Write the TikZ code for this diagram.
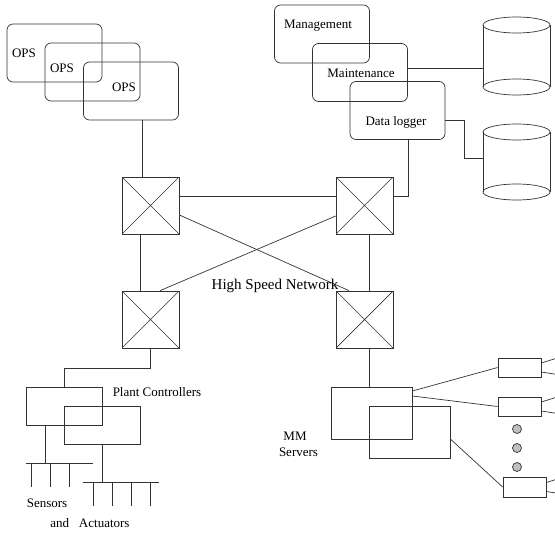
\documentclass[tikz,border=0pt]{standalone}
\usepackage{fontspec}
\setmainfont{Liberation Serif}

\begin{document}
\begin{tikzpicture}[x=1pt,y=-1pt,line width=0.7pt,draw=black!80,
    font=\fontsize{13}{15}\selectfont,
    switchbox/.style={draw,minimum size=57pt,inner sep=0pt,
      path picture={\draw (path picture bounding box.north west) -- (path picture bounding box.south east)
        (path picture bounding box.north east) -- (path picture bounding box.south west);}}]

      \useasboundingbox (0,0) rectangle (555,533);
      \clip (0,0) rectangle (555,533);

      % rounded stations
      \begin{scope}[every node/.style={draw,rounded corners=6pt,minimum width=95pt,minimum height=58pt,inner sep=0pt}]
        \node (ops1)   at (54.5,53)    {};
        \node (ops2)   at (92.5,72)    {};
        \node (ops3)   at (131,91)     {};
        \node (mgmt)   at (322,34)     {};
        \node (maint)  at (360,72.5)   {};
        \node (logger) at (397.5,110.5) {};
      \end{scope}

      % switches
      \begin{scope}[every node/.style={switchbox}]
        \node (sw1) at (150.5,205.5) {};
        \node (sw2) at (364.5,205.5) {};
        \node (sw3) at (150.5,319.5) {};
        \node (sw4) at (364.5,319.5) {};
      \end{scope}

      % controllers, servers, cameras
      \begin{scope}[every node/.style={draw,inner sep=0pt}]
        \node[minimum width=76pt,minimum height=38pt] (pc1) at (64,406)    {};
        \node[minimum width=76pt,minimum height=38pt] (pc2) at (102,425)   {};
        \node[minimum width=81pt,minimum height=52pt] (mm1) at (371.5,413) {};
        \node[minimum width=81pt,minimum height=52pt] (mm2) at (409.5,432) {};
        \node[minimum width=43pt,minimum height=19pt] (cam1) at (519.5,367.5) {};
        \node[minimum width=43pt,minimum height=19pt] (cam2) at (519.5,406.5) {};
        \node[minimum width=43pt,minimum height=20pt] (cam3) at (524.5,487)   {};
      \end{scope}

      \foreach \c in {cam1,cam2,cam3}
        \draw ([yshift=4.5pt]\c.east) -- ++(19,-6) ([yshift=-4.5pt]\c.east) -- ++(19,3);

      \foreach \y in {429,448,467}
        \draw[fill=black!25] (517,\y) circle[radius=4.5pt];

      % disks
      \draw (516.5,25) ellipse[x radius=33.5pt,y radius=8pt] (516.5,87) ellipse[x radius=33.5pt,y radius=8pt];
      \draw (483,25) -- (483,87) (550,25) -- (550,87);
      \draw (516.5,132) ellipse[x radius=33.5pt,y radius=8pt] (516.5,192) ellipse[x radius=33.5pt,y radius=8pt];
      \draw (483,132) -- (483,192) (550,132) -- (550,192);
      \coordinate (db1) at (483,68);
      \coordinate (db2) at (483,158);

      % buses
      \coordinate (bus1) at (45,463);
      \coordinate (bus2) at (102,482);
      \draw (26,463) -- (93,463);
      \foreach \x in {31,50,69} \draw (\x,463) -- (\x,487);
      \draw (83,482) -- (159,482);
      \foreach \x in {93,112,131,150} \draw (\x,482) -- (\x,506);

      % links
      \draw ([xshift=11pt]ops3.south) -- ([xshift=11pt]ops3.south |- sw1.north);
      \draw ([yshift=4.5pt]maint.east) -- (db1);
      \draw ([yshift=-9.5pt]logger.east) -- ++(19,0) |- (db2);
      \draw ([xshift=10.5pt]logger.south) |- ([yshift=9.5pt]sw2.east);
      \draw ([yshift=9.5pt]sw1.east) -- ([yshift=9.5pt]sw2.west);
      \draw ([xshift=-10.5pt]sw1.south) -- ([xshift=-10.5pt]sw3.north);
      \draw ([xshift=4.5pt]sw2.south) -- ([xshift=4.5pt]sw4.north);
      \draw ([yshift=-9.5pt]sw1.east) -- ([xshift=-15.5pt]sw4.north);
      \draw ([yshift=-10.5pt]sw2.west) -- ([xshift=9.5pt]sw3.north);
      \draw (sw3.south) -- ++(0,20) -| (pc1.north);
      \draw ([xshift=-19pt]pc1.south) -- (bus1);
      \draw (pc2.south) -- (bus2);
      \draw ([xshift=4.5pt]sw4.south) -- ([xshift=4.5pt]sw4.south |- mm1.north);
      \draw ([yshift=22pt]mm1.east) -- (cam1.west);
      \draw ([yshift=17pt]mm1.east) -- (cam2.west);
      \draw ([yshift=-7pt]mm2.east) -- (cam3.west);

      % labels
      \begin{scope}[every node/.style={inner sep=0pt}]
        \node (l1)  at (24,53)   {OPS};
        \node (l2)  at (62,68)   {OPS};
        \node (l3)  at (124,87)  {OPS};
        \node (l4)  at (318,26)  {Management};
        \node (l5)  at (361,73)  {Maintenance};
        \node (l6)  at (396,122) {Data logger};
        \node[font=\fontsize{15}{17}\selectfont] (l7) at (275,286) {High Speed Network};
        \node (l8)  at (157,392) {Plant Controllers};
        \node (l9)  at (295,436) {MM};
        \node (l10) at (298.5,452) {Servers};
        \node (l11) at (47,503)  {Sensors};
        \node (l12) at (90,523)  {and~~~Actuators};
      \end{scope}

    \end{tikzpicture}
\end{document}
